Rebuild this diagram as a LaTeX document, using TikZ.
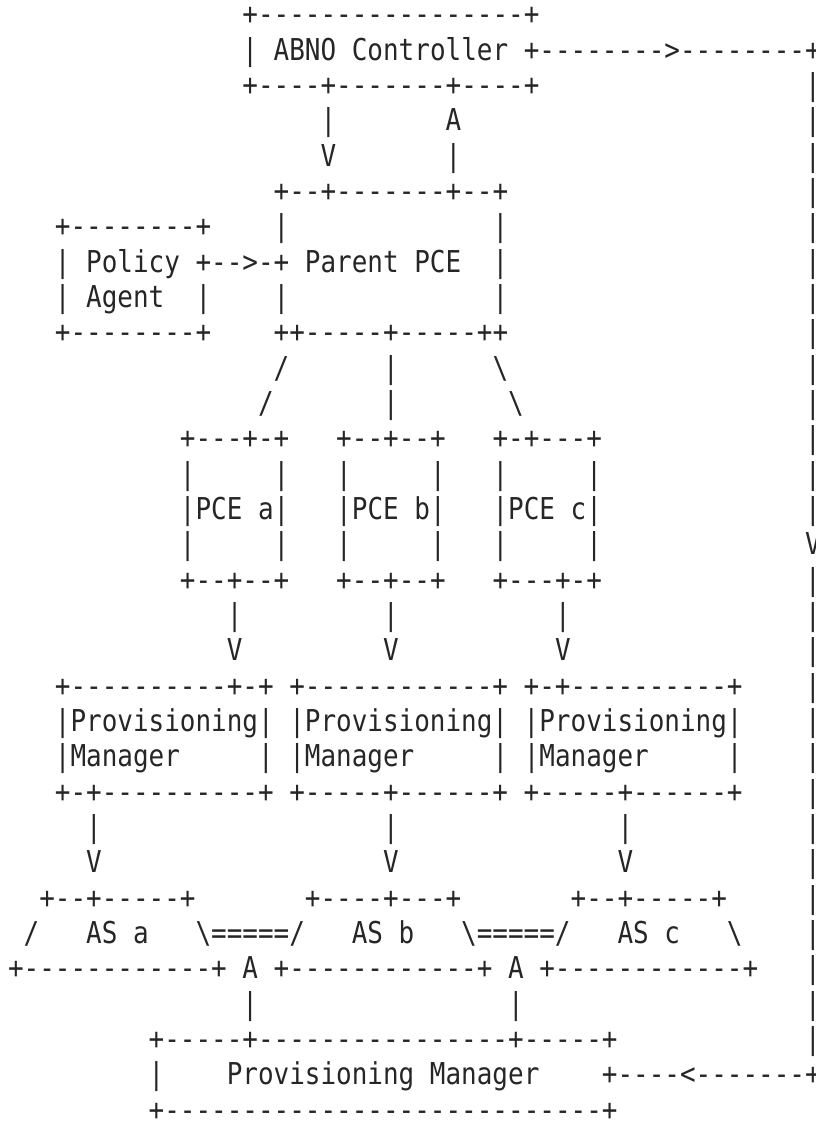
\documentclass[tikz,border=0pt]{standalone}
\usepackage{graphicx}
\usepackage{fontspec}
\newfontfamily\asciimono{DejaVu Sans Mono}
\definecolor{ink}{HTML}{262626}
\newcommand\cw{15.63}
\newcommand\lh{35.33}
\tikzset{ascii/.style={anchor=base west, inner sep=0pt, outer sep=0pt,
  font=\asciimono\fontsize{25.96pt}{35.33pt}\selectfont, text=ink}}
\newcommand\seg[4]{\node[ascii] (#1) at ({0.2-\cw/2+#2*\cw},{1128-25-(#3-1)*\lh}) {\scalebox{1}[1.16]{#4}};}
\newcommand\bs{\textbackslash}
\begin{document}
\begin{tikzpicture}[x=1pt,y=1pt]
\useasboundingbox (0,0) rectangle (815,1128);
\fill[white] (0,0) rectangle (815,1128);
\clip (0,0) rectangle (815,1128);
% ABNO controller
\seg{l1a}{16}{1}{+-----------------+}
\seg{l2a}{16}{2}{|~ABNO~Controller~+-------->--------+}
\seg{l3a}{16}{3}{+----+-------+----+}
\seg{l4a}{21}{4}{|}\seg{l4b}{29}{4}{A}
\seg{l5a}{21}{5}{V}\seg{l5b}{29}{5}{|}
% Parent PCE and Policy Agent
\seg{l6a}{18}{6}{+--+-------+--+}
\seg{l7a}{4}{7}{+--------+}\seg{l7b}{18}{7}{|}\seg{l7c}{32}{7}{|}
\seg{l8a}{4}{8}{|~Policy~+-->-+~Parent~PCE}\seg{l8b}{32}{8}{|}
\seg{l9a}{4}{9}{|~Agent~~|}\seg{l9b}{18}{9}{|}\seg{l9c}{32}{9}{|}
\seg{l10a}{4}{10}{+--------+}\seg{l10b}{18}{10}{++-----+-----++}
\seg{l11a}{18}{11}{/}\seg{l11b}{25}{11}{|}\seg{l11c}{32}{11}{\bs}
\seg{l12a}{17}{12}{/}\seg{l12b}{25}{12}{|}\seg{l12c}{33}{12}{\bs}
% child PCEs
\seg{l13a}{12}{13}{+---+-+}\seg{l13b}{22}{13}{+--+--+}\seg{l13c}{32}{13}{+-+---+}
\seg{l14a}{12}{14}{|~~~~~|}\seg{l14b}{22}{14}{|~~~~~|}\seg{l14c}{32}{14}{|~~~~~|}
\seg{l15a}{12}{15}{|PCE~a|}\seg{l15b}{22}{15}{|PCE~b|}\seg{l15c}{32}{15}{|PCE~c|}
\seg{l16a}{12}{16}{|~~~~~|}\seg{l16b}{22}{16}{|~~~~~|}\seg{l16c}{32}{16}{|~~~~~|}
\seg{l17a}{12}{17}{+--+--+}\seg{l17b}{22}{17}{+--+--+}\seg{l17c}{32}{17}{+---+-+}
\seg{l18a}{15}{18}{|}\seg{l18b}{25}{18}{|}\seg{l18c}{36}{18}{|}
\seg{l19a}{15}{19}{V}\seg{l19b}{25}{19}{V}\seg{l19c}{36}{19}{V}
% provisioning managers
\seg{l20a}{4}{20}{+----------+-+~+------------+~+-+----------+}
\seg{l21a}{4}{21}{|Provisioning|~|Provisioning|~|Provisioning|}
\seg{l22a}{4}{22}{|Manager~~~~~|~|Manager~~~~~|~|Manager~~~~~|}
\seg{l23a}{4}{23}{+-+----------+~+-----+------+~+-----+------+}
\seg{l24a}{6}{24}{|}\seg{l24b}{25}{24}{|}\seg{l24c}{40}{24}{|}
\seg{l25a}{6}{25}{V}\seg{l25b}{25}{25}{V}\seg{l25c}{40}{25}{V}
% autonomous systems
\seg{l26a}{3}{26}{+--+-----+}\seg{l26b}{20}{26}{+----+---+}\seg{l26c}{37}{26}{+--+-----+}
\seg{l27a}{2}{27}{/~~~AS~a~~~\bs=====/~~~AS~b~~~\bs=====/~~~AS~c~~~\bs}
\seg{l28a}{1}{28}{+------------+~A~+------------+~A~+------------+}
\seg{l29a}{16}{29}{|}\seg{l29b}{33}{29}{|}
% bottom provisioning manager
\seg{l30a}{10}{30}{+-----+----------------+-----+}
\seg{l31a}{10}{31}{|~~~~Provisioning~Manager~~~~+----<-------+}
\seg{l32a}{10}{32}{+----------------------------+}
% right-hand return line
\seg{r3}{52}{3}{|}\seg{r4}{52}{4}{|}\seg{r5}{52}{5}{|}\seg{r6}{52}{6}{|}
\seg{r7}{52}{7}{|}\seg{r8}{52}{8}{|}\seg{r9}{52}{9}{|}\seg{r10}{52}{10}{|}
\seg{r11}{52}{11}{|}\seg{r12}{52}{12}{|}\seg{r13}{52}{13}{|}\seg{r14}{52}{14}{|}
\seg{r15}{52}{15}{|}\seg{r16}{52}{16}{V}\seg{r17}{52}{17}{|}\seg{r18}{52}{18}{|}
\seg{r19}{52}{19}{|}\seg{r20}{52}{20}{|}\seg{r21}{52}{21}{|}\seg{r22}{52}{22}{|}
\seg{r23}{52}{23}{|}\seg{r24}{52}{24}{|}\seg{r25}{52}{25}{|}\seg{r26}{52}{26}{|}
\seg{r27}{52}{27}{|}\seg{r28}{52}{28}{|}\seg{r29}{52}{29}{|}\seg{r30}{52}{30}{|}
\end{tikzpicture}
\end{document}
